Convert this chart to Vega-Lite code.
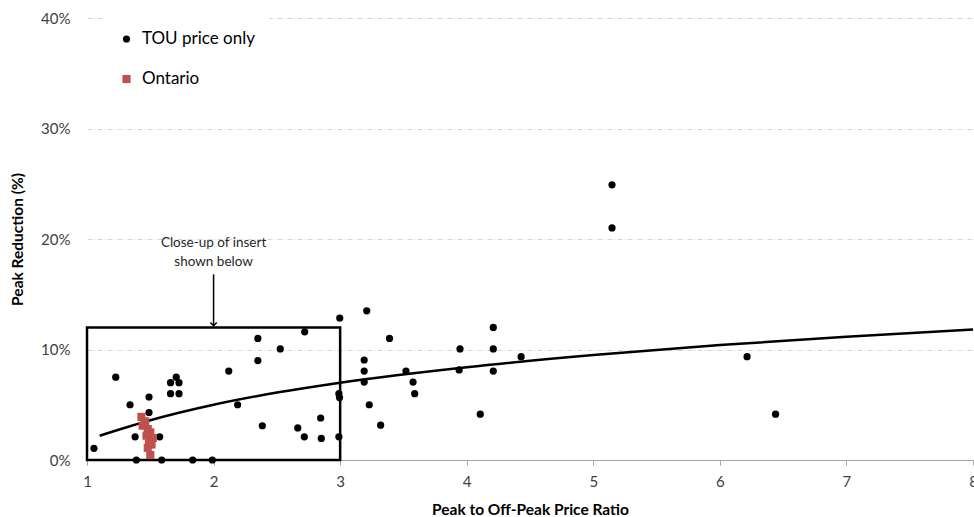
{
  "$schema": "https://vega.github.io/schema/vega-lite/v6.json",
  "width": 886,
  "height": 442,
  "autosize": {"type": "none"},
  "padding": {"left": 87, "top": 18, "right": 1, "bottom": 57},
  "background": "white",
  "config": {
    "view": {"stroke": null},
    "font": "Lato",
    "axis": {"labelFont": "Lato", "titleFont": "Lato"}
  },
  "datasets": {
    "points": [
      {"series": "TOU price only", "ratio": 1.055, "reduction": 1.06},
      {"series": "TOU price only", "ratio": 1.227, "reduction": 7.5},
      {"series": "TOU price only", "ratio": 1.34, "reduction": 5.0},
      {"series": "TOU price only", "ratio": 1.49, "reduction": 5.7},
      {"series": "TOU price only", "ratio": 1.49, "reduction": 4.3},
      {"series": "TOU price only", "ratio": 1.38, "reduction": 2.1},
      {"series": "TOU price only", "ratio": 1.574, "reduction": 2.1},
      {"series": "TOU price only", "ratio": 1.39, "reduction": 0},
      {"series": "TOU price only", "ratio": 1.59, "reduction": 0},
      {"series": "TOU price only", "ratio": 1.835, "reduction": 0},
      {"series": "TOU price only", "ratio": 1.99, "reduction": 0},
      {"series": "TOU price only", "ratio": 1.66, "reduction": 7.0},
      {"series": "TOU price only", "ratio": 1.705, "reduction": 7.5},
      {"series": "TOU price only", "ratio": 1.727, "reduction": 7.0},
      {"series": "TOU price only", "ratio": 1.66, "reduction": 6.0},
      {"series": "TOU price only", "ratio": 1.727, "reduction": 6.0},
      {"series": "TOU price only", "ratio": 2.12, "reduction": 8.05},
      {"series": "TOU price only", "ratio": 2.19, "reduction": 5.0},
      {"series": "TOU price only", "ratio": 2.35, "reduction": 11.0},
      {"series": "TOU price only", "ratio": 2.35, "reduction": 9.0},
      {"series": "TOU price only", "ratio": 2.527, "reduction": 10.05},
      {"series": "TOU price only", "ratio": 2.72, "reduction": 11.6},
      {"series": "TOU price only", "ratio": 2.385, "reduction": 3.1},
      {"series": "TOU price only", "ratio": 2.665, "reduction": 2.9},
      {"series": "TOU price only", "ratio": 2.717, "reduction": 2.1},
      {"series": "TOU price only", "ratio": 2.846, "reduction": 3.8},
      {"series": "TOU price only", "ratio": 2.851, "reduction": 1.95},
      {"series": "TOU price only", "ratio": 2.99, "reduction": 2.1},
      {"series": "TOU price only", "ratio": 2.99, "reduction": 6.0},
      {"series": "TOU price only", "ratio": 2.995, "reduction": 5.65},
      {"series": "TOU price only", "ratio": 2.997, "reduction": 12.85},
      {"series": "TOU price only", "ratio": 3.21, "reduction": 13.5},
      {"series": "TOU price only", "ratio": 3.39, "reduction": 11.0},
      {"series": "TOU price only", "ratio": 3.19, "reduction": 9.05},
      {"series": "TOU price only", "ratio": 3.19, "reduction": 8.05},
      {"series": "TOU price only", "ratio": 3.19, "reduction": 7.05},
      {"series": "TOU price only", "ratio": 3.23, "reduction": 5.0},
      {"series": "TOU price only", "ratio": 3.32, "reduction": 3.15},
      {"series": "TOU price only", "ratio": 3.52, "reduction": 8.05},
      {"series": "TOU price only", "ratio": 3.576, "reduction": 7.05},
      {"series": "TOU price only", "ratio": 3.589, "reduction": 6.0},
      {"series": "TOU price only", "ratio": 3.947, "reduction": 10.05},
      {"series": "TOU price only", "ratio": 3.94, "reduction": 8.15},
      {"series": "TOU price only", "ratio": 4.107, "reduction": 4.15},
      {"series": "TOU price only", "ratio": 4.21, "reduction": 12.0},
      {"series": "TOU price only", "ratio": 4.21, "reduction": 10.05},
      {"series": "TOU price only", "ratio": 4.21, "reduction": 8.05},
      {"series": "TOU price only", "ratio": 4.43, "reduction": 9.35},
      {"series": "TOU price only", "ratio": 5.148, "reduction": 24.9},
      {"series": "TOU price only", "ratio": 5.148, "reduction": 21.0},
      {"series": "TOU price only", "ratio": 6.215, "reduction": 9.35},
      {"series": "TOU price only", "ratio": 6.44, "reduction": 4.15},
      {"series": "Ontario", "ratio": 1.43, "reduction": 3.9},
      {"series": "Ontario", "ratio": 1.46, "reduction": 3.5},
      {"series": "Ontario", "ratio": 1.44, "reduction": 3.1},
      {"series": "Ontario", "ratio": 1.48, "reduction": 2.8},
      {"series": "Ontario", "ratio": 1.5, "reduction": 2.5},
      {"series": "Ontario", "ratio": 1.47, "reduction": 2.2},
      {"series": "Ontario", "ratio": 1.52, "reduction": 2.0},
      {"series": "Ontario", "ratio": 1.49, "reduction": 1.7},
      {"series": "Ontario", "ratio": 1.51, "reduction": 1.4},
      {"series": "Ontario", "ratio": 1.48, "reduction": 1.1},
      {"series": "Ontario", "ratio": 1.5, "reduction": 0.45}
    ],
    "trend": [
      {"ratio": 1.1, "reduction": 2.2},
      {"ratio": 1.5, "reduction": 3.6},
      {"ratio": 2.0, "reduction": 5.0},
      {"ratio": 2.5, "reduction": 6.1},
      {"ratio": 3.0, "reduction": 7.0},
      {"ratio": 4.0, "reduction": 8.4},
      {"ratio": 5.0, "reduction": 9.5},
      {"ratio": 6.0, "reduction": 10.4},
      {"ratio": 7.0, "reduction": 11.15},
      {"ratio": 8.0, "reduction": 11.8}
    ],
    "insert": [
      {"x1": 1, "x2": 3, "y1": 0, "y2": 12}
    ],
    "note": [
      {"ratio": 2, "reduction": 19.6, "label": "Close-up of insert"},
      {"ratio": 2, "reduction": 17.9, "label": "shown below"}
    ],
    "arrow": [
      {"ratio": 2, "top": 16.8, "tip": 12.15}
    ]
  },
  "layer": [
    {
      "data": {"name": "insert"},
      "mark": {"type": "rect", "fill": null, "stroke": "black", "strokeWidth": 2.5},
      "encoding": {
        "x": {
          "field": "x1", "type": "quantitative",
          "scale": {"domain": [1, 8], "nice": false, "zero": false},
          "axis": {
            "title": "Peak to Off-Peak Price Ratio",
            "titleFontSize": 15.5, "titleFontWeight": "bold", "titleColor": "#000000",
            "titlePadding": 13,
            "values": [1, 2, 3, 4, 5, 6, 7, 8],
            "format": "d",
            "labelFontSize": 15, "labelColor": "#404040", "labelPadding": 9,
            "labelFlush": false,
            "domainColor": "#A6A6A6", "domainWidth": 1,
            "tickColor": "#A6A6A6", "tickSize": 5,
            "grid": false
          }
        },
        "x2": {"field": "x2"},
        "y": {
          "field": "y1", "type": "quantitative",
          "scale": {"domain": [0, 40], "nice": false},
          "axis": {
            "title": "Peak Reduction (%)",
            "titleFontSize": 15.5, "titleFontWeight": "bold", "titleColor": "#000000",
            "titlePadding": 15,
            "values": [0, 10, 20, 30, 40],
            "labelExpr": "datum.value + '%'",
            "labelFontSize": 15, "labelColor": "#404040", "labelPadding": 17,
            "domain": false, "ticks": false,
            "grid": true, "gridColor": "#D6D6D6", "gridDash": [5, 2, 1, 2], "gridWidth": 1
          }
        },
        "y2": {"field": "y2"}
      }
    },
    {
      "data": {"name": "trend"},
      "mark": {"type": "line", "color": "black", "strokeWidth": 2.5, "interpolate": "monotone"},
      "encoding": {
        "x": {"field": "ratio", "type": "quantitative"},
        "y": {"field": "reduction", "type": "quantitative"}
      }
    },
    {
      "data": {"name": "points"},
      "mark": {"type": "point", "filled": true, "opacity": 1, "strokeWidth": 0},
      "encoding": {
        "x": {"field": "ratio", "type": "quantitative"},
        "y": {"field": "reduction", "type": "quantitative"},
        "color": {
          "field": "series", "type": "nominal",
          "scale": {"domain": ["TOU price only", "Ontario"], "range": ["#000000", "#C0504D"]},
          "legend": {
            "title": null,
            "orient": "none",
            "legendX": 17,
            "legendY": -1.5,
            "padding": 14,
            "fillColor": "white",
            "labelFont": "Lato",
            "labelFontSize": 17,
            "labelColor": "#000000",
            "labelOffset": 7,
            "rowPadding": 22,
            "symbolSize": 60
          }
        },
        "shape": {
          "field": "series", "type": "nominal",
          "scale": {"domain": ["TOU price only", "Ontario"], "range": ["circle", "square"]}
        },
        "size": {
          "field": "series", "type": "nominal",
          "scale": {"domain": ["TOU price only", "Ontario"], "range": [52, 66]},
          "legend": null
        }
      }
    },
    {
      "data": {"name": "arrow"},
      "mark": {"type": "rule", "color": "black", "strokeWidth": 1.5},
      "encoding": {
        "x": {"field": "ratio", "type": "quantitative"},
        "y": {"field": "top", "type": "quantitative"},
        "y2": {"field": "tip"}
      }
    },
    {
      "data": {"name": "arrow"},
      "mark": {"type": "point", "shape": "M -1 -1 L 0 0 L 1 -1", "filled": false, "color": "black", "strokeWidth": 1.5, "size": 40, "opacity": 1},
      "encoding": {
        "x": {"field": "ratio", "type": "quantitative"},
        "y": {"field": "tip", "type": "quantitative"}
      }
    },
    {
      "data": {"name": "note"},
      "mark": {"type": "text", "font": "Lato", "fontSize": 13.5, "color": "#262626", "align": "center", "baseline": "middle"},
      "encoding": {
        "x": {"field": "ratio", "type": "quantitative"},
        "y": {"field": "reduction", "type": "quantitative"},
        "text": {"field": "label"}
      }
    }
  ]
}
